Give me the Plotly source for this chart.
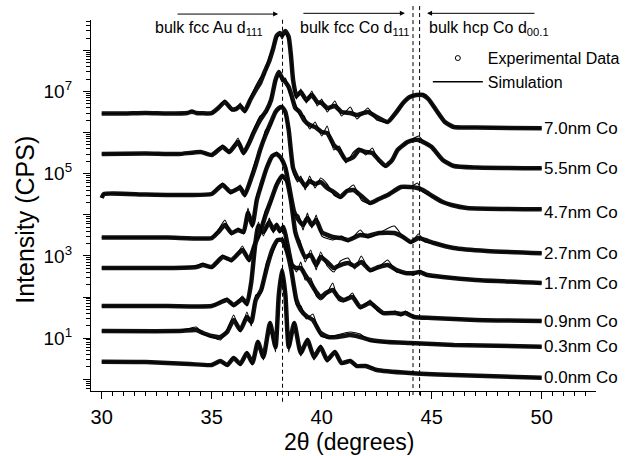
import numpy as np
import plotly.graph_objects as go

# ---- data: 2-theta (deg) and log10(intensity, CPS) ----
x_70 = [30.0,31.0,32.0,33.0,33.9,34.1,34.3,35.0,35.3,35.6,35.9,36.1,36.3,36.5,36.75,37.0,37.2,37.4,37.6,37.8,37.95,38.1,38.2,38.35,38.5,38.6,38.7,38.85,39.05,39.3,39.55,39.8,40.0,40.25,40.6,40.9,41.3,41.6,42.1,42.5,43.0,43.4,43.7,44.0,44.3,44.6,44.85,45.2,45.6,46.0,47.0,50.0]
exp_70 = [6.465,6.465,6.477,6.465,6.477,6.513,6.477,6.477,6.598,6.744,6.574,6.574,6.647,6.525,6.793,7.036,7.207,7.474,7.718,8.058,8.350,8.423,8.375,8.472,8.326,7.888,7.280,6.890,6.988,6.793,6.915,6.744,6.720,6.598,6.647,6.501,6.477,6.428,6.501,6.379,6.258,6.501,6.720,6.866,6.915,6.915,6.817,6.550,6.258,6.136,6.124,6.105]
sim_70 = [6.465,6.465,6.477,6.465,6.477,6.537,6.477,6.465,6.598,6.793,6.525,6.550,6.720,6.477,6.842,7.134,7.328,7.401,7.815,8.107,8.302,8.375,8.277,8.423,8.253,7.961,7.231,6.817,7.061,6.720,7.012,6.647,6.817,6.501,6.769,6.404,6.623,6.331,6.598,6.306,6.258,6.501,6.720,6.866,6.915,6.939,6.817,6.550,6.258,6.136,6.124,6.105]

x_55 = [30.0,32.0,33.5,34.5,35.0,35.5,35.8,36.2,36.45,36.7,36.9,37.2,37.5,37.7,37.9,38.05,38.2,38.35,38.5,38.65,38.8,39.0,39.2,39.45,39.7,40.0,40.25,40.55,40.8,41.1,41.45,41.7,42.0,42.3,42.6,42.9,43.2,43.45,43.9,44.2,44.4,44.7,45.0,45.5,46.0,47.0,50.0]
exp_55 = [5.479,5.491,5.479,5.528,5.455,5.650,5.528,5.771,5.504,5.747,5.990,6.306,6.550,6.793,7.280,7.474,7.328,7.231,7.110,6.866,6.598,6.501,6.306,6.185,6.136,6.014,5.990,5.698,5.577,5.333,5.406,5.577,5.528,5.504,5.333,5.187,5.333,5.577,5.771,5.820,5.820,5.747,5.650,5.333,5.187,5.150,5.131]
sim_55 = [5.479,5.491,5.479,5.528,5.455,5.698,5.504,5.868,5.455,5.820,6.063,6.404,6.477,6.890,7.231,7.426,7.231,7.328,7.036,6.793,6.696,6.428,6.404,6.087,6.258,5.917,6.160,5.577,5.674,5.260,5.528,5.625,5.455,5.625,5.285,5.163,5.333,5.577,5.771,5.868,5.917,5.747,5.650,5.333,5.187,5.150,5.131]

x_47 = [30.0,30.1,32.0,34.0,35.0,35.5,35.85,36.3,36.5,36.8,37.0,37.2,37.45,37.7,37.9,38.05,38.2,38.35,38.5,38.7,38.9,39.05,39.25,39.45,39.7,39.95,40.25,40.55,40.85,41.15,41.45,41.8,42.2,42.6,43.0,43.6,44.0,44.35,44.6,45.1,45.5,45.9,46.6,50.0]
exp_47 = [4.409,4.506,4.494,4.482,4.506,4.725,4.555,4.652,4.482,4.895,5.211,5.577,5.941,6.258,6.501,6.598,6.623,6.501,6.063,5.139,4.895,4.847,4.701,4.822,4.749,4.798,4.652,4.555,4.433,4.579,4.603,4.457,4.287,4.384,4.482,4.676,4.676,4.652,4.603,4.433,4.311,4.238,4.165,4.133]
sim_47 = [4.409,4.506,4.494,4.482,4.506,4.774,4.506,4.725,4.433,4.968,5.333,5.528,6.063,6.185,6.501,6.550,6.647,6.428,6.112,5.041,4.798,4.944,4.603,4.944,4.652,4.895,4.749,4.482,4.409,4.603,4.725,4.360,4.263,4.384,4.482,4.676,4.652,4.774,4.555,4.433,4.311,4.238,4.165,4.133]

x_27 = [30.0,33.0,35.0,35.3,35.6,35.9,36.2,36.45,36.65,36.85,37.05,37.25,37.5,37.75,37.95,38.15,38.35,38.55,38.75,38.95,39.15,39.35,39.55,39.75,40.0,40.5,40.9,41.2,41.75,42.1,42.6,43.3,43.7,44.05,44.4,44.7,45.1,46.0,47.5,50.0]
exp_27 = [3.448,3.448,3.435,3.581,3.752,3.557,3.630,3.581,4.044,3.752,4.360,4.725,5.139,5.430,5.479,5.382,5.139,4.603,4.068,3.873,3.752,3.922,3.752,3.873,3.581,3.460,3.435,3.387,3.508,3.484,3.557,3.557,3.460,3.338,3.435,3.387,3.314,3.192,3.119,3.063]
sim_27 = [3.448,3.448,3.435,3.630,3.873,3.508,3.679,3.533,4.165,3.679,4.482,4.652,5.211,5.382,5.528,5.333,5.211,4.482,3.995,3.995,3.630,4.044,3.679,3.995,3.484,3.387,3.484,3.338,3.630,3.435,3.557,3.727,3.460,3.314,3.533,3.338,3.314,3.192,3.119,3.063]

x_17 = [30.0,33.0,34.3,34.6,35.0,35.5,35.9,36.4,36.7,36.95,37.2,37.45,37.7,37.95,38.2,38.4,38.6,38.8,39.0,39.25,39.5,39.75,39.95,40.25,40.55,40.85,41.2,41.5,41.8,42.2,42.6,43.0,43.4,43.8,44.2,44.45,44.8,45.5,47.0,50.0]
exp_17 = [2.705,2.705,2.730,2.778,2.730,2.973,2.900,3.144,2.900,3.265,3.581,3.995,4.360,4.725,4.944,4.847,4.360,3.581,3.265,2.973,3.022,2.778,2.973,2.851,2.705,2.778,2.827,2.754,2.851,2.657,2.730,2.778,2.657,2.584,2.584,2.608,2.535,2.487,2.414,2.340]
sim_17 = [2.705,2.705,2.754,2.827,2.705,3.022,2.851,3.241,2.851,3.338,3.508,4.117,4.287,4.774,4.944,4.798,4.457,3.484,3.387,2.851,3.144,2.657,3.095,2.754,2.608,2.876,2.949,2.681,2.998,2.608,2.730,2.900,2.608,2.584,2.535,2.657,2.511,2.487,2.414,2.340]

x_09 = [30.0,33.0,35.0,35.7,36.0,36.4,36.6,36.8,36.95,37.12,37.35,37.62,37.8,37.95,38.1,38.26,38.45,38.65,38.85,39.05,39.25,39.5,39.75,39.95,40.2,40.5,40.75,41.0,41.4,41.75,42.2,42.5,42.8,43.35,43.6,43.8,44.2,45.0,47.0,50.0]
exp_09 = [1.781,1.781,1.781,1.927,1.805,1.951,1.829,2.365,3.144,3.727,3.581,3.825,3.630,3.752,3.606,3.703,3.265,2.778,2.705,2.705,2.535,2.340,2.121,2.000,2.097,2.170,2.000,1.927,2.000,1.756,1.854,1.732,1.610,1.610,1.586,1.610,1.513,1.489,1.440,1.416]
sim_09 = [1.781,1.781,1.781,1.975,1.756,2.024,1.781,2.462,3.046,3.825,3.484,3.922,3.557,3.800,3.557,3.727,3.192,2.851,2.608,2.851,2.414,2.462,2.024,1.927,2.048,2.340,1.927,1.878,2.097,1.708,1.927,1.684,1.586,1.659,1.537,1.659,1.513,1.489,1.440,1.416]

x_03 = [30.0,33.5,34.3,34.6,35.0,35.4,35.7,36.0,36.3,36.6,36.8,37.0,37.25,37.5,37.75,38.0,38.2,38.4,38.6,38.85,39.05,39.3,39.6,39.95,40.3,40.7,41.3,41.75,42.2,43.0,44.0,46.0,50.0]
exp_03 = [1.172,1.172,1.197,1.124,1.051,1.027,1.148,1.440,1.197,1.513,1.391,1.927,2.170,2.705,3.144,3.387,3.387,3.144,2.705,1.927,1.684,1.537,1.440,1.124,1.027,1.027,1.075,1.027,0.954,0.905,0.880,0.832,0.790]
sim_03 = [1.172,1.172,1.270,1.099,1.027,0.954,1.197,1.562,1.148,1.635,1.294,2.048,2.097,2.851,3.046,3.387,3.435,3.095,2.803,1.805,1.781,1.464,1.586,1.051,1.002,1.075,1.148,1.099,0.929,0.905,0.880,0.832,0.790]

x_00 = [30.0,32.0,34.0,35.0,35.4,35.7,36.0,36.3,36.6,36.85,37.1,37.35,37.65,37.9,38.05,38.2,38.35,38.5,38.75,39.05,39.35,39.65,39.95,40.25,40.6,40.9,41.3,41.6,42.0,42.5,44.0,46.0,50.0]
exp_00 = [0.425,0.418,0.370,0.345,0.442,0.345,0.515,0.370,0.637,0.394,0.905,0.540,1.367,0.783,2.048,2.657,2.048,0.783,1.367,0.637,0.954,0.540,0.783,0.467,0.661,0.394,0.442,0.321,0.321,0.224,0.151,0.102,0.036]
sim_00 = [0.425,0.418,0.370,0.345,0.442,0.321,0.540,0.345,0.661,0.345,0.954,0.467,1.391,0.661,2.048,2.657,2.048,0.661,1.391,0.564,1.002,0.467,0.832,0.418,0.686,0.370,0.467,0.297,0.345,0.224,0.151,0.102,0.036]

sample_labels = ["7.0nm Co", "5.5nm Co", "4.7nm Co", "2.7nm Co", "1.7nm Co", "0.9nm Co", "0.3nm Co", "0.0nm Co"]
label_nudge = [0, 0, -3, 0, 0, 0, 0, 0]
series = [(x_70, exp_70, sim_70), (x_55, exp_55, sim_55), (x_47, exp_47, sim_47), (x_27, exp_27, sim_27),
          (x_17, exp_17, sim_17), (x_09, exp_09, sim_09), (x_03, exp_03, sim_03), (x_00, exp_00, sim_00)]

ref_lines = [38.22, 44.15, 44.45]   # bulk Au fcc(111), Co fcc(111), Co hcp(00.1)

FONT = "Liberation Sans, Arial, Helvetica, sans-serif"

fig = go.Figure()
for (xs, ev, sv) in series:
    fig.add_trace(go.Scatter(x=xs, y=np.power(10.0, ev), mode="lines",
                             line=dict(color="#111111", width=4.5, shape="spline", smoothing=0.5),
                             showlegend=False, hoverinfo="skip"))
for (xs, ev, sv) in series:
    fig.add_trace(go.Scatter(x=xs, y=np.power(10.0, sv), mode="lines",
                             line=dict(color="black", width=1.1, shape="spline", smoothing=0.5),
                             showlegend=False, hoverinfo="skip"))

# legend entries
fig.add_trace(go.Scatter(x=[None], y=[None], mode="markers", name="Experimental Data",
                         marker=dict(symbol="circle-open", size=5, color="black", line=dict(width=1))))
fig.add_trace(go.Scatter(x=[None], y=[None], mode="lines", name="Simulation",
                         line=dict(color="black", width=1.5)))

# end-of-curve labels
for (xs, ev, sv), lab, dy in zip(series, sample_labels, label_nudge):
    fig.add_annotation(x=xs[-1], y=ev[-1], xref="x", yref="y", text=lab, showarrow=False,
                       xanchor="left", yanchor="middle", xshift=0, yshift=dy,
                       font=dict(family=FONT, size=17, color="black"))

# reference dashed lines
fig.add_shape(type="line", xref="x", yref="paper", x0=ref_lines[0], x1=ref_lines[0], y0=-0.029, y1=1.008,
              line=dict(color="black", width=1, dash="4px,3px"))
for xv in ref_lines[1:]:
    fig.add_shape(type="line", xref="x", yref="paper", x0=xv, x1=xv, y0=-0.011, y1=1.045,
                  line=dict(color="black", width=1, dash="4px,3px"))

# arrows and labels at top
def arrow(x_head, x_tail, y):
    fig.add_annotation(x=x_head, y=y, ax=x_tail, ay=0, xref="x", yref="paper", axref="x", ayref="pixel",
                       text="", showarrow=True, arrowhead=2, arrowsize=1, arrowwidth=1, arrowcolor="black")

arrow(38.02, 33.38, 1.016)
arrow(43.78, 39.10, 1.018)
arrow(44.79, 49.74, 1.018)

top_texts = [(32.33, "bulk fcc Au d<sub>111</sub>"), (38.92, "bulk fcc Co d<sub>111</sub>"), (44.79, "bulk hcp Co d<sub>00.1</sub>")]
for xv, t in top_texts:
    fig.add_annotation(x=xv, y=0.976, xref="x", yref="paper", text=t, showarrow=False,
                       xanchor="left", yanchor="middle", font=dict(family=FONT, size=16, color="black"))

# axis titles
fig.add_annotation(x=0.511, y=-0.1752, xref="paper", yref="paper", text="2\u03b8 (degrees)", showarrow=False,
                   xanchor="center", yanchor="bottom", borderpad=0, font=dict(family=FONT, size=23, color="black"))
fig.add_annotation(x=-0.131, y=0.461, xref="paper", yref="paper", text="Intensity (CPS)", showarrow=False,
                   textangle=-90, xanchor="center", yanchor="middle", font=dict(family=FONT, size=25, color="black"))

# ticks
y_major = [10.0 ** k for k in range(0, 9)]
y_text = ["10<sup>%d</sup>" % k if k % 2 == 1 else "" for k in range(0, 9)]
y_minor = [m * 10.0 ** k for k in range(-1, 9) for m in range(2, 10) if -0.287 < np.log10(m * 10.0 ** k) < 8.74]
x_major = [30, 35, 40, 45, 50]
x_minor = [v / 2 for v in range(60, 105) if v % 10 != 0]

fig.update_layout(
    width=627, height=456,
    margin=dict(l=91, r=31, t=20, b=65, autoexpand=False),
    paper_bgcolor="white", plot_bgcolor="white",
    font=dict(family=FONT, size=20, color="black"),
    legend=dict(x=0.667, y=0.943, xanchor="left", yanchor="top", bgcolor="rgba(0,0,0,0)",
                font=dict(family=FONT, size=16), itemwidth=50, tracegroupgap=0),
    xaxis=dict(range=[29.514, 52.468], showline=True, linecolor="black", linewidth=1.2, showgrid=False,
               zeroline=False, ticks="outside", ticklen=7, tickwidth=1.2, tickcolor="black",
               tickmode="array", tickvals=x_major, ticktext=[str(v) for v in x_major],
               tickfont=dict(size=20), ticklabelstandoff=1, automargin=False,
               minor=dict(tickmode="array", tickvals=x_minor, ticks="outside", ticklen=4, tickwidth=1, tickcolor="black")),
    yaxis=dict(type="log", range=[-0.287, 8.74], showline=True, linecolor="black", linewidth=1.2, showgrid=False,
               zeroline=False, ticks="outside", ticklen=7, tickwidth=1.2, tickcolor="black",
               tickmode="array", tickvals=y_major, ticktext=y_text, tickfont=dict(size=19), ticklabelstandoff=7,
               automargin=False,
               minor=dict(tickmode="array", tickvals=y_minor, ticks="outside", ticklen=4, tickwidth=1, tickcolor="black")),
)

# remove the default 8px page margin so the figure fills the 627x456 window exactly
fig.write_html("out.html", config={"displayModeBar": False},
               post_script="document.body.style.margin='0px'; document.body.style.overflow='hidden';")
